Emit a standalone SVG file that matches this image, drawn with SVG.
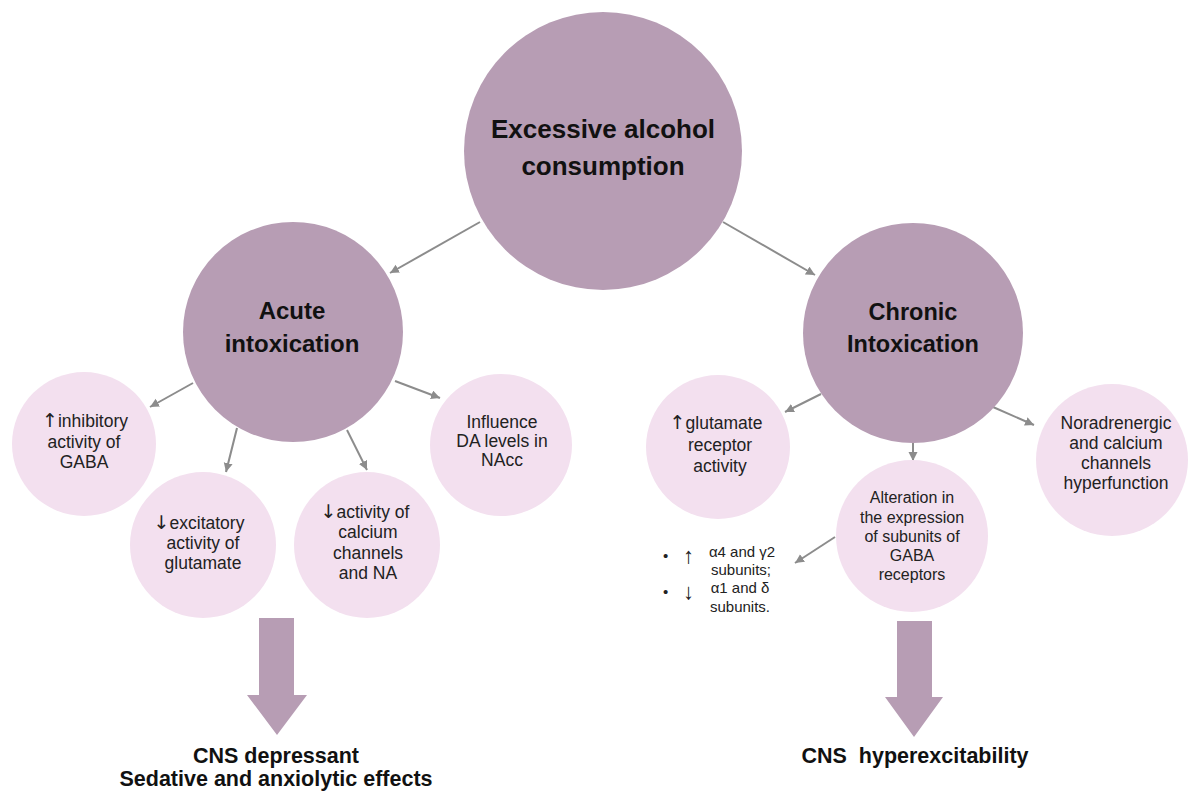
<svg xmlns="http://www.w3.org/2000/svg" width="1196" height="794" viewBox="0 0 1196 794">
<defs>
<style>
.big{fill:#b79db4}
.small{fill:#f3e0ef}
.block{fill:#b79db4}
.conn{stroke:#8c8c8c;stroke-width:2;fill:none}
.t{font-family:"Liberation Sans",Arial,sans-serif;fill:#222;text-anchor:middle}
.lbl{font-size:17.5px}
.lbl2{font-size:16px}
.ar{font-family:"DejaVu Sans",sans-serif;font-size:19px;font-weight:normal}
.bul{font-size:15px;font-family:"Liberation Sans",Arial,sans-serif;fill:#222}
.title{font-family:"Liberation Sans",Arial,sans-serif;font-weight:bold;fill:#111;text-anchor:middle}
</style>
<marker id="ah" markerUnits="userSpaceOnUse" markerWidth="10" markerHeight="10" refX="9" refY="4.5" orient="auto">
<path d="M0,0 L9,4.5 L0,9 z" fill="#8c8c8c"/>
</marker>
</defs>
<rect width="1196" height="794" fill="#ffffff"/>

<g id="connectors">
<line class="conn" x1="480" y1="222" x2="390" y2="273" marker-end="url(#ah)"/>
<line class="conn" x1="723" y1="222" x2="815" y2="275" marker-end="url(#ah)"/>
<line class="conn" x1="193" y1="383" x2="150" y2="407" marker-end="url(#ah)"/>
<line class="conn" x1="237" y1="428" x2="226" y2="472" marker-end="url(#ah)"/>
<line class="conn" x1="347" y1="430" x2="367" y2="470" marker-end="url(#ah)"/>
<line class="conn" x1="395" y1="381" x2="440" y2="398" marker-end="url(#ah)"/>
<line class="conn" x1="821" y1="394" x2="785" y2="412" marker-end="url(#ah)"/>
<line class="conn" x1="913" y1="443" x2="913" y2="461" marker-end="url(#ah)"/>
<line class="conn" x1="993" y1="407" x2="1034" y2="425" marker-end="url(#ah)"/>
<line class="conn" x1="835" y1="537" x2="795" y2="563" marker-end="url(#ah)"/>
</g>

<g id="node-excessive">
<circle class="big" cx="603" cy="151" r="139"/>
<text class="title" font-size="26" x="603" y="138">Excessive alcohol</text>
<text class="title" font-size="26" x="603" y="175">consumption</text>
</g>

<g id="node-acute">
<circle class="big" cx="293" cy="332" r="110"/>
<text class="title" font-size="24" x="292" y="319">Acute</text>
<text class="title" font-size="24" x="292" y="352">intoxication</text>
</g>

<g id="node-chronic">
<circle class="big" cx="913" cy="333" r="110"/>
<text class="title" font-size="23.5" x="913" y="320">Chronic</text>
<text class="title" font-size="23.5" x="913" y="352">Intoxication</text>
</g>

<g id="node-gaba">
<circle class="small" cx="84" cy="444" r="72"/>
<text class="t lbl" x="85" y="427"><tspan class="ar">↑</tspan>inhibitory</text>
<text class="t lbl" x="84" y="448">activity of</text>
<text class="t lbl" x="84" y="468">GABA</text>
</g>

<g id="node-glutamate">
<circle class="small" cx="203" cy="545" r="73"/>
<text class="t lbl" x="199" y="529"><tspan class="ar">↓</tspan>excitatory</text>
<text class="t lbl" x="203" y="549">activity of</text>
<text class="t lbl" x="203" y="569">glutamate</text>
</g>

<g id="node-calcium">
<circle class="small" cx="367" cy="545" r="73"/>
<text class="t lbl" x="365" y="518"><tspan class="ar">↓</tspan>activity of</text>
<text class="t lbl" x="368" y="538">calcium</text>
<text class="t lbl" x="368" y="559">channels</text>
<text class="t lbl" x="368" y="579">and NA</text>
</g>

<g id="node-da">
<circle class="small" cx="501" cy="445" r="71"/>
<text class="t lbl" x="502" y="428">Influence</text>
<text class="t lbl" x="502" y="447">DA levels in</text>
<text class="t lbl" x="502" y="466">NAcc</text>
</g>

<g id="node-glutamate-receptor">
<circle class="small" cx="718" cy="447" r="72"/>
<text class="t lbl" x="716" y="429"><tspan class="ar">↑</tspan>glutamate</text>
<text class="t lbl" x="720" y="451">receptor</text>
<text class="t lbl" x="720" y="472">activity</text>
</g>

<g id="node-alteration">
<circle class="small" cx="912" cy="536" r="76"/>
<text class="t lbl2" x="912" y="503">Alteration in</text>
<text class="t lbl2" x="912" y="523">the expression</text>
<text class="t lbl2" x="912" y="542">of subunits of</text>
<text class="t lbl2" x="912" y="561">GABA</text>
<text class="t lbl2" x="912" y="580">receptors</text>
</g>

<g id="node-noradrenergic">
<circle class="small" cx="1112" cy="460" r="76"/>
<text class="t lbl" x="1116" y="429">Noradrenergic</text>
<text class="t lbl" x="1116" y="449">and calcium</text>
<text class="t lbl" x="1116" y="469">channels</text>
<text class="t lbl" x="1116" y="489">hyperfunction</text>
</g>

<g id="node-subunits">
<text class="bul" x="663" y="561" font-size="13">•</text>
<text class="bul ar" x="683" y="563" style="font-size:22px">↑</text>
<text class="bul" x="742" y="557" text-anchor="middle">α4 and γ2</text>
<text class="bul" x="741" y="575" text-anchor="middle">subunits;</text>
<text class="bul" x="663" y="597" font-size="13">•</text>
<text class="bul ar" x="683" y="599" style="font-size:22px">↓</text>
<text class="bul" x="740" y="593" text-anchor="middle">α1 and δ</text>
<text class="bul" x="740" y="612" text-anchor="middle">subunits.</text>
</g>

<g id="node-cns-depressant">
<path class="block" d="M259,618 H294 V695 H307 L277,735 L247,695 H259 Z"/>
<text class="title" font-size="21.5" x="276" y="763">CNS depressant</text>
<text class="title" font-size="21.5" x="276" y="786">Sedative and anxiolytic effects</text>
</g>

<g id="node-cns-hyper">
<path class="block" d="M897,621 H932 V697 H943 L914,737 L885,697 H897 Z"/>
<text class="title" font-size="21.5" x="915" y="763" xml:space="preserve">CNS  hyperexcitability</text>
</g>
</svg>
